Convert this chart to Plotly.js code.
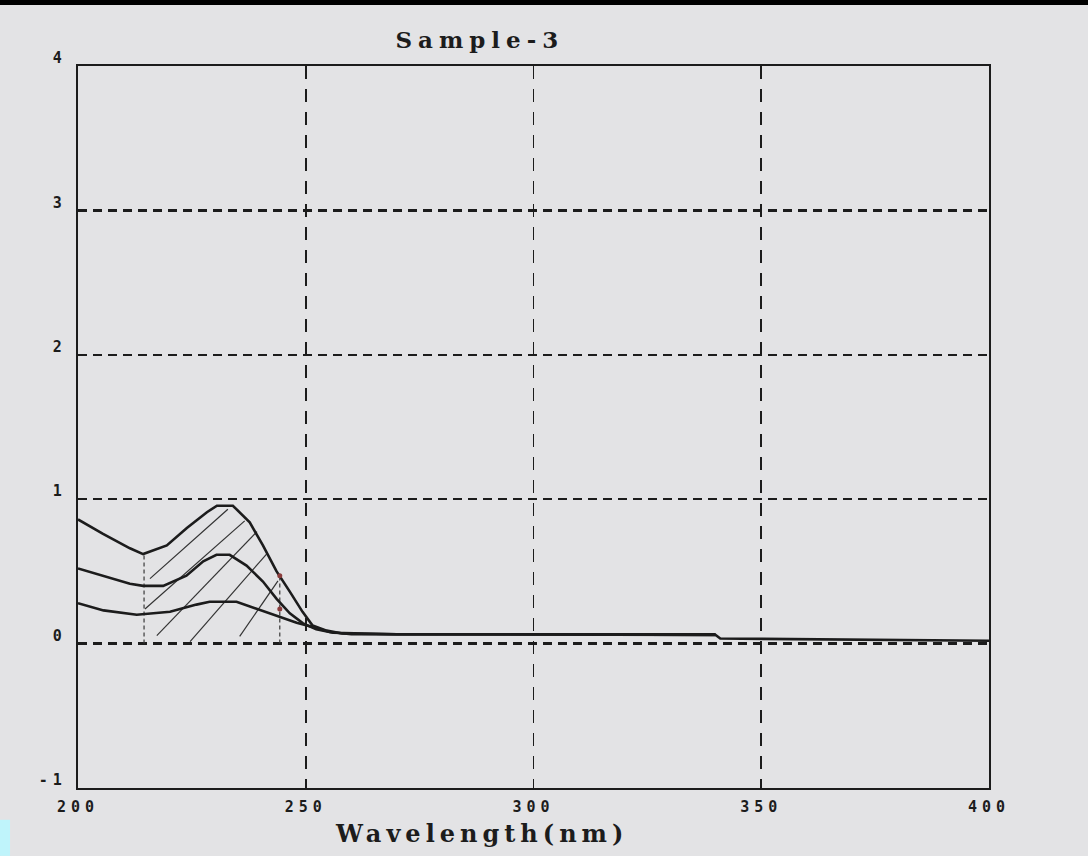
<!DOCTYPE html>
<html>
<head>
<meta charset="utf-8">
<script src="https://cdn.plot.ly/plotly-3.0.1.min.js"></script>
<style>
html,body{margin:0;padding:0;background:#e3e3e5;}
#chart{width:1088px;height:856px;}
.gtitle{letter-spacing:6px;}
.annotation-text{letter-spacing:5px;}
.xtick text{letter-spacing:5px;}
.ytick text{letter-spacing:5px;}
</style>
</head>
<body>
<div id="chart"></div>
<script>
// Spectra (wavelength nm, absorbance)
const curve1X = [200, 205.5, 211.4, 214.3, 219.5, 223.9, 228.3, 230.5, 234.0, 237.7, 240.6, 243.6, 246.5, 249.3, 251.5, 254.6, 258, 270, 290, 310, 330, 340, 341, 360, 380, 400];
const curve1Y = [0.86, 0.76, 0.66, 0.62, 0.68, 0.80, 0.91, 0.955, 0.955, 0.84, 0.68, 0.50, 0.36, 0.22, 0.125, 0.09, 0.07, 0.065, 0.065, 0.065, 0.065, 0.06, 0.035, 0.03, 0.025, 0.02];
const curve2X = [200, 205.6, 211.4, 214.3, 218.7, 223.8, 227.5, 230.4, 233.3, 237.0, 240.6, 243.6, 246.5, 249.4, 252.3, 256, 270, 300, 340];
const curve2Y = [0.52, 0.47, 0.415, 0.40, 0.40, 0.47, 0.57, 0.615, 0.615, 0.54, 0.43, 0.31, 0.21, 0.14, 0.10, 0.075, 0.065, 0.065, 0.065];
const curve3X = [200, 205.6, 212.9, 220.2, 226.0, 228.9, 234.8, 239.2, 243.6, 248.0, 250.9, 255.3, 260, 300, 340];
const curve3Y = [0.28, 0.23, 0.20, 0.22, 0.27, 0.29, 0.29, 0.24, 0.19, 0.145, 0.12, 0.08, 0.065, 0.06, 0.06];

// Integration-region hatching segments
const hatchX0 = [215.8, 214.7, 217.3, 224.6, 235.5];
const hatchY0 = [0.45, 0.24, 0.055, 0.014, 0.05];
const hatchX1 = [232.9, 236.6, 239.3, 241.4, 243.9];
const hatchY1 = [0.93, 0.85, 0.775, 0.62, 0.435];

// Region boundary markers
const markerX = [214.5, 244.3];
const markerTop = [0.63, 0.47];
const dotX = [244.3, 244.3];
const dotY = [0.47, 0.24];

// Axis ticks and texts
const xTicks = [200, 250, 300, 350, 400];
const xTickText = ['200', '250', '300', '350', '400'];
const yTicks = [-1, 0, 1, 2, 3, 4];
const yTickText = ['-1', '0', '1', '2', '3', '4'];
const chartTitle = 'Sample-3';
const xTitle = 'Wavelength(nm)';

const ink = '#1c1c1c';

const hx = [], hy = [];
for (let i = 0; i < hatchX0.length; i++) {
  hx.push(hatchX0[i], hatchX1[i], null);
  hy.push(hatchY0[i], hatchY1[i], null);
}
const mx = [], my = [];
for (let i = 0; i < markerX.length; i++) {
  mx.push(markerX[i], markerX[i], null);
  my.push(0, markerTop[i], null);
}

const traces = [
  {x: hx, y: hy, mode: 'lines', line: {color: '#333', width: 1.2}, hoverinfo: 'skip'},
  {x: mx, y: my, mode: 'lines', line: {color: '#3a3a3a', width: 1.2, dash: '4px,3px'}, hoverinfo: 'skip'},
  {x: curve1X, y: curve1Y, mode: 'lines', line: {color: ink, width: 2.6}},
  {x: curve2X, y: curve2Y, mode: 'lines', line: {color: ink, width: 2.6}},
  {x: curve3X, y: curve3Y, mode: 'lines', line: {color: ink, width: 2.6}},
  {x: dotX, y: dotY, mode: 'markers', marker: {color: '#8a3c3c', size: 5}}
];

const layout = {
  width: 1088, height: 856,
  paper_bgcolor: '#e3e3e5', plot_bgcolor: '#e3e3e5',
  showlegend: false,
  margin: {l: 78, r: 99, t: 66, b: 68},
  title: {text: '<b>' + chartTitle + '</b>', x: 0.441, xanchor: 'center', y: 0.953, yanchor: 'middle',
          font: {family: 'DejaVu Serif', size: 23, color: ink}},
  xaxis: {
    range: [200, 400], tickvals: xTicks, ticktext: xTickText,
    showgrid: true, gridcolor: ink, gridwidth: 1.8, griddash: '13px,10px',
    zeroline: false, showline: true, mirror: true, linecolor: ink, linewidth: 2.4,
    ticks: '', ticklabelstandoff: 4,
    tickfont: {family: 'DejaVu Sans Mono', size: 15, color: ink, weight: 'bold'}
  },
  yaxis: {
    range: [-1, 4], tickvals: yTicks, ticktext: yTickText,
    showgrid: true, gridcolor: ink, gridwidth: 2.5, griddash: '9px,6px',
    zeroline: false, showline: true, mirror: true, linecolor: ink, linewidth: 2.2,
    ticks: '', ticklabelstandoff: 6, ticklabelshift: -8,
    tickfont: {family: 'DejaVu Sans Mono', size: 15, color: ink, weight: 'bold'}
  },
  annotations: [
    {text: '<b>' + xTitle + '</b>', xref: 'paper', yref: 'paper', x: 0.443, y: -0.063,
     xanchor: 'center', yanchor: 'middle', showarrow: false,
     font: {family: 'DejaVu Serif', size: 24, color: ink}}
  ],
  shapes: [
    {type: 'rect', xref: 'paper', yref: 'paper', x0: -0.09, x1: 1.11, y0: 1.0845, y1: 1.1, fillcolor: '#000', line: {width: 0}},
    {type: 'rect', xref: 'paper', yref: 'paper', x0: -0.0856, x1: -0.0746, y0: -0.094, y1: -0.044, fillcolor: '#bff4fb', line: {width: 0}}
  ]
};

Plotly.newPlot('chart', traces, layout, {displayModeBar: false, staticPlot: true});
</script>
</body>
</html>
